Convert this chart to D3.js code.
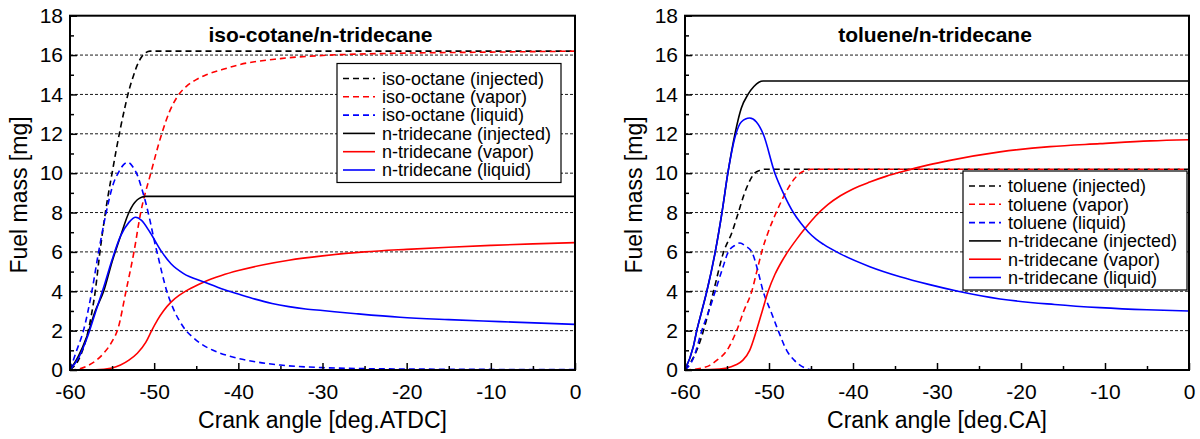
<!DOCTYPE html>
<html>
<head>
<meta charset="utf-8">
<script src="https://cdn.jsdelivr.net/npm/d3@7"></script>
<style>
  body { margin: 0; background: #fff; }
  svg text { font-family: "Liberation Sans", Arial, sans-serif; fill: #000; }
</style>
</head>
<body>
<div id="chart"></div>
<script>
// axis ticks
var xTicks = [-60, -50, -40, -30, -20, -10, 0];
var xMinorTicks = [-55, -45, -35, -25, -15, -5];
var yTicks = [0, 2, 4, 6, 8, 10, 12, 14, 16, 18];
var yMinorTicks = [1, 3, 5, 7, 9, 11, 13, 15, 17];
var gridValues = [2, 4, 6, 8, 10, 12, 14, 16];

// panel titles and axis labels
var titles = ["iso-cotane/n-tridecane", "toluene/n-tridecane"];
var xLabels = ["Crank angle [deg.ATDC]", "Crank angle [deg.CA]"];
var yLabel = "Fuel mass [mg]";

// legend labels
var legendA = ["iso-octane (injected)", "iso-octane (vapor)", "iso-octane (liquid)",
  "n-tridecane (injected)", "n-tridecane (vapor)", "n-tridecane (liquid)"];
var legendB = ["toluene (injected)", "toluene (vapor)", "toluene (liquid)",
  "n-tridecane (injected)", "n-tridecane (vapor)", "n-tridecane (liquid)"];

// left panel: iso-octane / n-tridecane  [crank angle, mass mg]
var isoInjected = [[-60,0],[-59,0.5],[-58.5,1.0],[-58,1.7],[-57.5,2.7],[-57,4.0],[-56.5,5.8],[-56,7.4],[-55.5,8.8],[-55,10.0],[-54.5,11.2],[-54,12.3],[-53.5,13.3],[-53,14.2],[-52.5,14.9],[-52,15.5],[-51.5,15.9],[-51,16.12],[-50.5,16.2],[0,16.2]];
var isoVapor = [[-60,0],[-59,0.05],[-58,0.2],[-57,0.45],[-56,0.85],[-55,1.45],[-54.3,2.1],[-53.35,4],[-52.4,6],[-51.6,8],[-50.4,10],[-49.1,12],[-48.2,13.1],[-47.3,13.85],[-46.2,14.4],[-45,14.75],[-43.8,15.0],[-42,15.25],[-40,15.5],[-35,15.82],[-30,15.98],[-20,16.1],[-10,16.15],[0,16.2]];
var isoLiquid = [[-60,0],[-59.2,1],[-58.4,2],[-57.4,4],[-56.6,6],[-55.7,8],[-54.9,9.4],[-54.15,10.1],[-53.6,10.45],[-53.1,10.55],[-52.5,10.3],[-52,9.9],[-51.5,9.25],[-51,8.5],[-50.5,7.6],[-50,6.6],[-49.5,5.7],[-49,4.8],[-48.5,4.0],[-48,3.4],[-47.5,2.9],[-47,2.5],[-46.3,2.05],[-45.5,1.7],[-44.5,1.35],[-43,1.0],[-41,0.7],[-38,0.42],[-35,0.25],[-30,0.12],[-25,0.07],[-20,0.05],[0,0.02]];
var triInjectedA = [[-60,0],[-59,0.7],[-58,1.7],[-57,3],[-56,4],[-55,5.5],[-54,6.8],[-53,8.0],[-52.5,8.4],[-52,8.65],[-51.5,8.78],[-51,8.82],[0,8.82]];
var triVaporA = [[-60,0],[-57,0.01],[-55,0.1],[-54,0.25],[-53,0.5],[-52,0.85],[-51,1.4],[-50.3,2],[-49.6,2.55],[-48.9,3.0],[-48,3.45],[-47,3.8],[-46,4.07],[-44.2,4.45],[-42,4.8],[-40,5.05],[-37,5.35],[-34,5.58],[-30,5.8],[-25,6.0],[-20,6.13],[-15,6.24],[-10,6.33],[-5,6.41],[0,6.47]];
var triLiquidA = [[-60,0],[-59,0.6],[-58,1.6],[-57,2.9],[-56,4.2],[-55,5.6],[-54,6.8],[-53,7.5],[-52.2,7.76],[-51.5,7.6],[-50.5,7.0],[-49.1,6.0],[-48,5.4],[-46.5,4.9],[-44.2,4.49],[-42,4.13],[-40,3.86],[-38,3.6],[-36,3.38],[-34,3.22],[-32,3.1],[-30,3.02],[-26,2.86],[-20.8,2.68],[-15,2.56],[-8.9,2.46],[-4,2.38],[0,2.32]];

// right panel: toluene / n-tridecane
var tolInjected = [[-60,0],[-58.6,1],[-57.8,2],[-56.6,4],[-55.4,6],[-54.4,7],[-53.65,8],[-52.9,9],[-51.7,10],[-51,10.15],[-50.5,10.2],[0,10.2]];
var tolVapor = [[-60,0],[-58,0.1],[-57,0.25],[-56.2,0.5],[-55,1],[-53.85,2],[-53,3],[-52.05,4],[-51.4,5.1],[-50.8,6.1],[-50.1,7.0],[-49.3,7.85],[-48.5,8.6],[-47.7,9.25],[-47,9.7],[-46.3,10.0],[-45.6,10.15],[-45,10.2],[0,10.2]];
var tolLiquid = [[-60,0],[-59,0.6],[-58,2],[-57,3.2],[-56.4,4],[-55.5,5.2],[-54.85,6],[-54,6.35],[-53.45,6.45],[-52.8,6.3],[-52.05,6],[-51.3,5],[-50.7,4],[-49.8,3],[-48.9,2],[-47.9,1],[-47,0.5],[-45.7,0.1],[-45,0.02],[-44,0],[0,0]];
var triInjectedB = [[-60,0],[-59,1.2],[-58.6,2],[-58,3],[-57.4,4],[-56.4,6],[-55.6,8],[-54.9,10],[-54.05,12],[-53.3,13.3],[-52.5,14],[-51.8,14.4],[-51.2,14.62],[-50.7,14.68],[0,14.68]];
var triVaporB = [[-60,0],[-57,0.02],[-55,0.1],[-54,0.25],[-53.1,0.5],[-52.3,1],[-51.5,2],[-50.8,3],[-50.1,4],[-49.3,4.85],[-48.5,5.5],[-47.7,6.05],[-46.7,6.65],[-45.5,7.3],[-44.5,7.8],[-43,8.4],[-41.5,8.85],[-40,9.2],[-38,9.55],[-36,9.85],[-34.4,10.05],[-31,10.42],[-28.45,10.65],[-22.5,11.08],[-16.55,11.35],[-10.6,11.5],[-4.6,11.64],[0,11.7]];
var triLiquidB = [[-60,0],[-59,1.2],[-58.6,2],[-58,3],[-57.4,4],[-56.4,6],[-55.6,8],[-54.9,10],[-54,11.9],[-53.3,12.6],[-52.3,12.8],[-51.5,12.6],[-50.7,12],[-49.3,10],[-48.2,8.9],[-47.1,8],[-46.2,7.45],[-45.3,7.0],[-44.4,6.65],[-43.5,6.38],[-41.5,5.9],[-38,5.25],[-34.4,4.74],[-31,4.35],[-27.5,4],[-22.5,3.61],[-16,3.33],[-10.6,3.17],[-5,3.06],[0,3.0]];

var colors = ["#000", "#ff0000", "#0000ff", "#000", "#ff0000", "#0000ff"];
var dashes = ["6,4", "6,4", "6,4", null, null, null];

var svg = d3.select("#chart").append("svg")
  .attr("width", 1200)
  .attr("height", 439);

// plain hyphen for negative tick labels, like the original
var plainFormat = function (d) { return String(d); };

function drawPanel(opts) {
  var x = d3.scaleLinear().domain([-60, 0]).range([opts.left, opts.right]);
  var y = d3.scaleLinear().domain([0, 18]).range([370, 15.7]);
  var g = svg.append("g");

  // dashed grid
  g.selectAll(".grid").data(gridValues).enter().append("line")
    .attr("x1", x(-60)).attr("x2", x(0))
    .attr("y1", function (d) { return y(d); })
    .attr("y2", function (d) { return y(d); })
    .attr("stroke", "#000")
    .attr("stroke-width", 0.9)
    .attr("stroke-dasharray", "3,2");

  // curves
  var line = d3.line()
    .x(function (d) { return x(d[0]); })
    .y(function (d) { return y(d[1]); })
    .curve(d3.curveMonotoneX);

  opts.series.forEach(function (s, i) {
    g.append("path")
      .attr("d", line(s))
      .attr("fill", "none")
      .attr("stroke", colors[i])
      .attr("stroke-width", 1.6)
      .attr("stroke-dasharray", dashes[i]);
  });

  // axes with inside ticks
  var yAxis = g.append("g").attr("transform", "translate(" + x(-60) + ",0)")
    .call(d3.axisLeft(y).tickValues(yTicks).tickSize(-7).tickPadding(7).tickFormat(plainFormat));
  g.append("g").attr("transform", "translate(" + x(-60) + ",0)")
    .call(d3.axisLeft(y).tickValues(yMinorTicks).tickSize(-4).tickFormat(""));
  var xAxis = g.append("g").attr("transform", "translate(0,370)")
    .call(d3.axisBottom(x).tickValues(xTicks).tickSize(-7).tickPadding(14).tickFormat(plainFormat));
  g.append("g").attr("transform", "translate(0,370)")
    .call(d3.axisBottom(x).tickValues(xMinorTicks).tickSize(-4).tickFormat(""));

  g.selectAll(".domain").remove();
  g.selectAll(".tick line").attr("stroke", "#000").attr("stroke-width", 1.5);
  yAxis.selectAll("text").style("font-size", "21px");
  xAxis.selectAll("text").style("font-size", "21px");

  // frame
  g.append("rect")
    .attr("x", x(-60)).attr("y", y(18))
    .attr("width", x(0) - x(-60)).attr("height", y(0) - y(18))
    .attr("fill", "none")
    .attr("stroke", "#000")
    .attr("stroke-width", 2);

  // title
  g.append("text")
    .attr("x", (x(-60) + x(0)) / 2 - 2)
    .attr("y", 42)
    .attr("text-anchor", "middle")
    .style("font-size", "21px")
    .style("font-weight", "bold")
    .text(opts.title);

  // axis labels
  g.append("text")
    .attr("x", (x(-60) + x(0)) / 2)
    .attr("y", 428)
    .attr("text-anchor", "middle")
    .style("font-size", "23px")
    .text(opts.xLabel);
  g.append("text")
    .attr("transform", "translate(" + (x(-60) - 43) + ",195) rotate(-90)")
    .attr("text-anchor", "middle")
    .style("font-size", "23px")
    .text(yLabel);

  // legend
  var lg = g.append("g").attr("transform", "translate(" + opts.legend[0] + "," + opts.legend[1] + ")");
  lg.append("rect")
    .attr("width", 224).attr("height", 119)
    .attr("fill", "#fff")
    .attr("stroke", "#000")
    .attr("stroke-width", 1.2);
  opts.labels.forEach(function (lab, i) {
    var cy = 15 + i * 18.3;
    lg.append("line")
      .attr("x1", 6).attr("x2", 38)
      .attr("y1", cy).attr("y2", cy)
      .attr("stroke", colors[i])
      .attr("stroke-width", 1.6)
      .attr("stroke-dasharray", dashes[i]);
    lg.append("text")
      .attr("x", 45)
      .attr("y", cy)
      .attr("dy", "0.35em")
      .style("font-size", "18px")
      .text(lab);
  });
}

drawPanel({
  left: 70, right: 575,
  title: titles[0], xLabel: xLabels[0], labels: legendA,
  legend: [337, 63.5],
  series: [isoInjected, isoVapor, isoLiquid, triInjectedA, triVaporA, triLiquidA]
});
drawPanel({
  left: 685, right: 1189,
  title: titles[1], xLabel: xLabels[1], labels: legendB,
  legend: [963, 171],
  series: [tolInjected, tolVapor, tolLiquid, triInjectedB, triVaporB, triLiquidB]
});
</script>
</body>
</html>
